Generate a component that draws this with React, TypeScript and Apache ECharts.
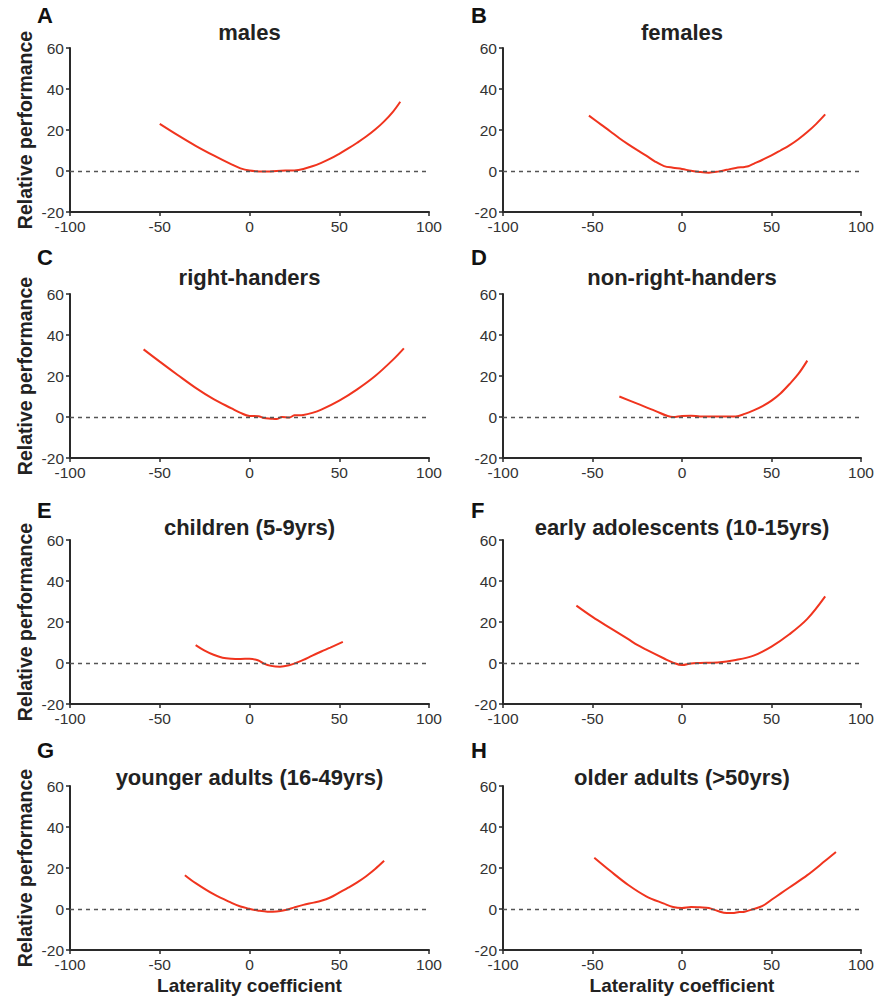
import React, { useEffect, useRef } from "react";
import * as echarts from "echarts";

const panelLetters = ["A", "B", "C", "D", "E", "F", "G", "H"];
const panelTitles = [
  "males",
  "females",
  "right-handers",
  "non-right-handers",
  "children (5-9yrs)",
  "early adolescents (10-15yrs)",
  "younger adults (16-49yrs)",
  "older adults (>50yrs)",
];

const males = [
  [-50, 23], [-40, 17.5], [-30, 12.3], [-20, 7.6], [-10, 3.2], [-5, 1.3], [0, 0.2], [5, -0.2], [10, -0.3],
  [15, 0], [20, 0.2], [25, 0.3], [30, 1], [35, 2.3], [40, 4], [45, 6], [50, 8.4], [55, 11], [60, 13.8],
  [65, 16.8], [70, 20.2], [75, 24.2], [80, 29], [84, 33.8],
];
const females = [
  [-52, 27], [-45, 22.5], [-40, 19.3], [-35, 16], [-30, 13], [-25, 10.2], [-20, 7.5], [-15, 4.6], [-10, 2.4],
  [-5, 1.6], [0, 1], [5, 0.1], [10, -0.5], [15, -0.8], [20, -0.3], [25, 0.6], [30, 1.5], [35, 2], [37, 2.3],
  [40, 3.5], [45, 5.5], [50, 7.6], [55, 10], [60, 12.5], [65, 15.5], [70, 19], [75, 23], [80, 27.6],
];
const rightHanders = [
  [-59, 33], [-50, 27], [-40, 20.5], [-30, 14.2], [-20, 8.7], [-10, 4.2], [-5, 2], [0, 0.5], [5, 0.4],
  [8, -0.5], [12, -0.8], [15, -1], [18, 0], [22, -0.3], [25, 0.8], [30, 1], [35, 2], [40, 3.6], [50, 8],
  [60, 13.5], [70, 20], [80, 28], [86, 33.5],
];
const nonRightHanders = [
  [-35, 10], [-25, 6.5], [-15, 3], [-5, 0], [0, 0.5], [5, 0.6], [10, 0.3], [20, 0.2], [30, 0.3], [35, 1.5],
  [40, 3.2], [45, 5.3], [50, 8], [55, 11.5], [60, 16], [65, 21], [70, 27.5],
];
const children = [
  [-30, 8.7], [-25, 6], [-20, 4], [-15, 2.6], [-10, 2.1], [-5, 2], [0, 2.1], [5, 1.2], [8, -0.3], [12, -1.4],
  [17, -1.8], [22, -1.1], [27, 0.4], [30, 1.5], [35, 3.6], [40, 5.6], [45, 7.5], [52, 10.3],
];
const earlyAdolescents = [
  [-59, 28], [-50, 22.5], [-40, 17], [-30, 11.6], [-25, 8.8], [-20, 6.5], [-10, 2.2], [-5, 0.2], [0, -1],
  [5, -0.2], [10, 0], [20, 0.3], [30, 1.5], [40, 3.6], [50, 8], [60, 14], [70, 21.5], [80, 32.5],
];
const youngerAdults = [
  [-36, 16.5], [-30, 12.6], [-20, 7.2], [-10, 3], [-5, 1.2], [0, 0.1], [5, -0.8], [10, -1.3], [15, -1.2],
  [20, -0.5], [25, 0.8], [30, 2], [35, 3], [40, 4], [45, 5.6], [50, 8], [55, 10.4], [60, 13], [65, 16],
  [70, 19.5], [75, 23.5],
];
const olderAdults = [
  [-49, 25], [-40, 18.5], [-30, 11.7], [-20, 6.2], [-10, 2.6], [-5, 1], [0, 0.5], [5, 1], [10, 0.8], [15, 0.5],
  [20, -1], [25, -2], [28, -2], [32, -1.5], [35, -1.3], [40, 0], [45, 1.5], [50, 4.5], [55, 7.5], [60, 10.5],
  [70, 16.5], [80, 23.5], [86, 27.8],
];
const panelData = [males, females, rightHanders, nonRightHanders, children, earlyAdolescents, youngerAdults, olderAdults];

const xTicks = { min: -100, max: 100, interval: 50 };
const yTicks = { min: -20, max: 60, interval: 20 };
const xName = "Laterality coefficient";
const yName = "Relative performance";

const FONT = "'Liberation Sans', Arial, Helvetica, sans-serif";
const colLeft = [70, 503];
const colWidth = [359, 358];
const rowTop = [48, 294, 540, 786];
const plotHeight = 164;
const titleY = [32, 277, 527, 777];
const letterY = [15, 257, 510, 750];
const letterX = [37, 471];

export default function App() {
  const ref = useRef<HTMLDivElement>(null);
  useEffect(() => {
    const chart = echarts.init(ref.current!, null, { renderer: "svg" });
    const grids: any[] = [];
    const xAxes: any[] = [];
    const yAxes: any[] = [];
    const series: any[] = [];
    const graphics: any[] = [];
    panelData.forEach((data, i) => {
      const col = i % 2;
      const row = Math.floor(i / 2);
      grids.push({ left: colLeft[col], top: rowTop[row], width: colWidth[col], height: plotHeight });
      xAxes.push({
        type: "value",
        gridIndex: i,
        ...xTicks,
        name: row === 3 ? xName : "",
        nameLocation: "middle",
        nameGap: 26,
        nameTextStyle: { fontFamily: FONT, fontWeight: "bold", fontSize: 19, color: "#222", verticalAlign: "top" },
        axisLine: { show: true, onZero: false, lineStyle: { color: "#2a2a2a", width: 2 } },
        axisTick: { show: true, length: 4, lineStyle: { color: "#2a2a2a", width: 1.5 } },
        axisLabel: { fontFamily: FONT, fontSize: 15.5, color: "#333", margin: 6 },
        splitLine: { show: false },
      });
      yAxes.push({
        type: "value",
        gridIndex: i,
        ...yTicks,
        name: col === 0 ? yName : "",
        nameLocation: "middle",
        nameGap: 35,
        nameTextStyle: { fontFamily: FONT, fontWeight: "bold", fontSize: 19.5, color: "#222" },
        axisLine: { show: true, onZero: false, lineStyle: { color: "#2a2a2a", width: 2 } },
        axisTick: { show: true, length: 4, lineStyle: { color: "#2a2a2a", width: 1.5 } },
        axisLabel: { fontFamily: FONT, fontSize: 15.5, color: "#333", margin: 6 },
        splitLine: { show: false },
      });
      series.push({
        type: "line",
        xAxisIndex: i,
        yAxisIndex: i,
        data,
        smooth: 0.35,
        showSymbol: false,
        lineStyle: { color: "#f0341e", width: 2 },
        markLine: {
          silent: true,
          symbol: "none",
          label: { show: false },
          lineStyle: { color: "#555", type: [4, 4], width: 1.3 },
          data: [{ yAxis: 0 }],
        },
      });
      graphics.push({
        type: "text",
        x: colLeft[col] + colWidth[col] / 2,
        y: titleY[row],
        style: {
          text: panelTitles[i],
          font: `bold 22px ${FONT}`,
          fill: "#222",
          align: "center",
          verticalAlign: "middle",
        },
      });
      graphics.push({
        type: "text",
        x: letterX[col],
        y: letterY[row],
        style: {
          text: panelLetters[i],
          font: `bold 22px ${FONT}`,
          fill: "#111",
          align: "left",
          verticalAlign: "middle",
        },
      });
    });
    chart.setOption({
      animation: false,
      backgroundColor: "#fff",
      grid: grids,
      xAxis: xAxes,
      yAxis: yAxes,
      series,
      graphic: graphics,
    });
    return () => chart.dispose();
  }, []);
  return (
    <div
      ref={ref}
      style={{ position: "absolute", left: 0, top: 0, width: 892, height: 1004, background: "#fff" }}
    />
  );
}
